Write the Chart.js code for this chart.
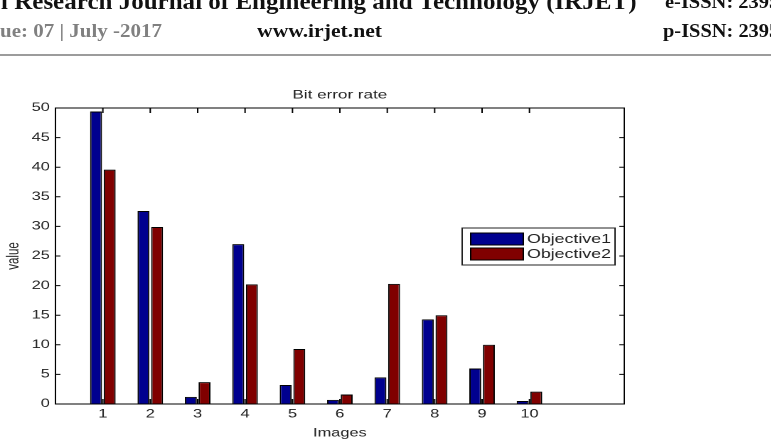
<!DOCTYPE html>
<html>
<head>
<meta charset="utf-8">
<script src="https://cdn.jsdelivr.net/npm/chart.js@4.4.0/dist/chart.umd.min.js"></script>
<style>
html, body { margin:0; padding:0; width:771px; height:440px; overflow:hidden; background:#fff; }
.hd { position:absolute; white-space:nowrap; font-family:"Liberation Serif", serif; font-weight:bold; line-height:1; transform-origin:0 0; z-index:2; }
#rule { position:absolute; left:0; top:54px; width:771px; height:2px; background:#9c9c9c; }
#wrap { position:absolute; left:0; top:0; width:543px; height:440px; transform:scaleX(1.422); transform-origin:0 0; }
</style>
</head>
<body>
<div class="hd" id="h1" style="left:1px; top:-10.6px; font-size:24px; color:#111;">l Research Journal of Engineering and Technology (IRJET)</div>
<div class="hd" id="h4" style="left:665px; top:-7.9px; font-size:19px; color:#111;">e-ISSN: 2395-0056</div>
<div class="hd" id="h2" style="left:0px; top:21.1px; font-size:19px; color:#808080;">ue: 07 | July -2017</div>
<div class="hd" id="h3" style="left:257px; top:21.1px; font-size:19px; color:#111;">www.irjet.net</div>
<div class="hd" id="h5" style="left:663px; top:21.1px; font-size:19px; color:#111;">p-ISSN: 2395-0072</div>
<div id="rule"></div>
<div id="wrap"><canvas id="chart"></canvas></div>
<script>
var categories = [1, 2, 3, 4, 5, 6, 7, 8, 9, 10]
var objective1 = [49.4, 32.6, 1.2, 27.0, 3.2, 0.7, 4.5, 14.3, 6.0, 0.5]
var objective2 = [39.6, 29.9, 3.7, 20.2, 9.3, 1.6, 20.3, 15.0, 10.0, 2.1]
var seriesNames = ['Objective1', 'Objective2']
var yTicks = [0, 5, 10, 15, 20, 25, 30, 35, 40, 45, 50]

var sans = '"Liberation Sans", Arial, sans-serif'

// squeeze header texts so they span the same width as in the scan
function fit(id, sample, width)
{
	var el = document.getElementById(id)
	var cs = getComputedStyle(el)
	var c = document.createElement('canvas').getContext('2d')
	c.font = cs.fontWeight + ' ' + cs.fontSize + ' ' + cs.fontFamily
	el.style.transform = 'scaleX(' + (width / c.measureText(sample).width) + ')'
}
fit('h1', 'l Research Journal of Engineering and Technology (IRJET)', 636)
fit('h2', 'ue: 07 | July -2017', 162)
fit('h3', 'www.irjet.net', 125)
fit('h4', 'e-ISSN: 239', 104)
fit('h5', 'p-ISSN: 239', 106)

// matlab style box with inward ticks
var boxPlugin = {
	id: 'box',
	afterDatasetsDraw: function(chart)
	{
		var ctx = chart.ctx
		var a = chart.chartArea
		var xs = chart.scales.x
		var ys = chart.scales.y
		ctx.save()
		ctx.strokeStyle = '#000'
		ctx.lineWidth = 1
		ctx.strokeRect(a.left, a.top, a.right - a.left, a.bottom - a.top)
		ctx.beginPath()
		for (var i = 0; i < categories.length; i++)
		{
			var px = xs.getPixelForValue(categories[i])
			ctx.moveTo(px, a.bottom); ctx.lineTo(px, a.bottom - 5)
			ctx.moveTo(px, a.top); ctx.lineTo(px, a.top + 5)
		}
		for (var j = 0; j < yTicks.length; j++)
		{
			var py = ys.getPixelForValue(yTicks[j])
			ctx.moveTo(a.left, py); ctx.lineTo(a.left + 3.5, py)
			ctx.moveTo(a.right, py); ctx.lineTo(a.right - 3.5, py)
		}
		ctx.stroke()
		ctx.restore()
	}
}

var legendPlugin = {
	id: 'boxLegend',
	afterDraw: function(chart)
	{
		var ctx = chart.ctx
		var sets = chart.data.datasets
		ctx.save()
		ctx.fillStyle = '#fff'
		ctx.fillRect(325, 228, 107.5, 37)
		ctx.strokeStyle = '#222'
		ctx.lineWidth = 1
		ctx.strokeRect(325, 228, 107.5, 37)
		ctx.font = '12.5px ' + sans
		ctx.textBaseline = 'middle'
		for (var i = 0; i < sets.length; i++)
		{
			var y = 233 + i * 15
			ctx.fillStyle = sets[i].backgroundColor
			ctx.fillRect(331, y, 37, 12)
			ctx.strokeStyle = '#000'
			ctx.strokeRect(331, y, 37, 12)
			ctx.fillStyle = '#222'
			ctx.fillText(sets[i].label, 370.6, y + 6.5)
		}
		ctx.restore()
	}
}

var ctx = document.getElementById('chart')
var myChart = new Chart(ctx, {
	type: 'bar',
	data: {
		datasets: [{
			label: seriesNames[0],
			data: categories.map(function(c, i) { return {x: c, y: objective1[i]} }),
			backgroundColor: '#00008f',
			borderColor: '#000',
			borderWidth: 1,
			categoryPercentage: 0.575,
			barPercentage: 0.875
		}, {
			label: seriesNames[1],
			data: categories.map(function(c, i) { return {x: c, y: objective2[i]} }),
			backgroundColor: '#800000',
			borderColor: '#000',
			borderWidth: 1,
			categoryPercentage: 0.575,
			barPercentage: 0.875
		}]
	},
	options: {
		responsive: true,
		maintainAspectRatio: false,
		animation: false,
		devicePixelRatio: 2,
		layout: { padding: { top: 88, right: 104, left: 0, bottom: 0 } },
		plugins: {
			legend: { display: false },
			tooltip: { enabled: false },
			title: {
				display: true,
				text: 'Bit error rate',
				fullSize: false,
				color: '#222',
				font: { family: sans, size: 12, weight: 'normal' },
				padding: { top: 0, bottom: 5.6 }
			}
		},
		scales: {
			x: {
				type: 'linear',
				min: 0,
				max: 12,
				offset: false,
				grid: { display: false, drawTicks: false },
				border: { display: false },
				ticks: { padding: 3.5, color: '#222', font: { family: sans, size: 11.5 }, autoSkip: false, maxRotation: 0 },
				afterBuildTicks: function(s) { s.ticks = categories.map(function(c) { return {value: c} }) },
				afterFit: function(s) { s.height = 36 },
				title: { display: true, text: 'Images', color: '#222', font: { family: sans, size: 11.5 }, padding: { top: 5.4, bottom: 0 } }
			},
			y: {
				min: 0,
				max: 50,
				grid: { display: false, drawTicks: false },
				border: { display: false },
				ticks: { padding: 4, color: '#222', font: { family: sans, size: 11.5 } },
				afterBuildTicks: function(s) { s.ticks = yTicks.map(function(v) { return {value: v} }) },
				afterFit: function(s) { s.width = 39 },
				title: { display: true, text: 'value', color: '#222', font: { family: sans, size: 11.5 }, padding: { top: 3, bottom: 0 } }
			}
		}
	},
	plugins: [boxPlugin, legendPlugin]
})
</script>
</body>
</html>
